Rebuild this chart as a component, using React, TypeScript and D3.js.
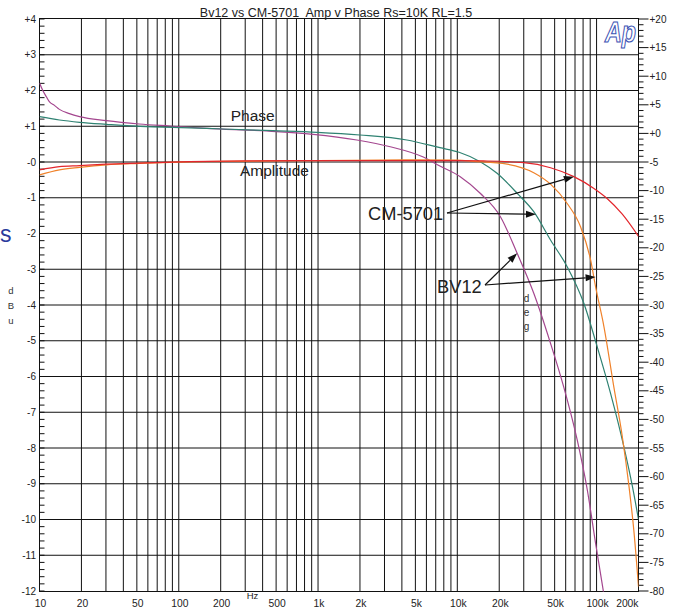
import React from "react";
import * as d3 from "d3";

// Frequency response, Bv12 vs CM-5701: amplitude (dBu, left) and phase (deg, right)
const CM5701_AMP_FREQ = [10, 13.9, 19.4, 30.2, 52, 120, 300, 1000, 5000, 10000, 15400, 30000, 46700, 68700, 95700, 119000, 153000, 200000];
const CM5701_AMP = [-0.22, -0.13, -0.1, -0.06, -0.03, 0.01, 0.03, 0.04, 0.04, 0.04, 0.03, -0.02, -0.16, -0.41, -0.74, -1.02, -1.46, -2.08];

const BV12_AMP_FREQ = [10, 13.9, 19.4, 30.2, 52, 150, 1000, 5000, 10000, 13000, 22800, 35400, 46700, 61500, 76700, 90600, 98400, 113000, 133000, 153000, 171000, 185000, 200000];
const BV12_AMP = [-0.36, -0.22, -0.15, -0.08, -0.04, 0.01, 0.04, 0.06, 0.05, 0.02, -0.06, -0.3, -0.62, -1.16, -1.81, -2.74, -3.49, -4.61, -6.29, -7.68, -9.08, -10.29, -11.88];

const CM5701_PHASE_FREQ = [10, 13.9, 19.4, 30.2, 58.6, 90.6, 207, 475, 984, 2000, 4340, 7500, 10300, 14600, 19300, 26900, 35400, 46700, 61500, 81000, 101000, 126000, 157000, 181000, 200000];
const CM5701_PHASE = [2.92, 2.34, 1.94, 1.59, 1.17, 1.07, 0.77, 0.47, 0.19, -0.28, -1.15, -2.5, -3.3, -4.95, -6.98, -10.47, -13.69, -18.64, -23.3, -29.7, -37.29, -45.44, -54.77, -61.77, -67.5];

const BV12_PHASE_FREQ = [10, 10.56, 11.2, 11.8, 12.8, 13.9, 16.4, 19.4, 30.2, 52, 86, 158, 428, 920, 1900, 3300, 5700, 7500, 10500, 14600, 20400, 26900, 35400, 46700, 58000, 72600, 85800, 98400, 112000];
const BV12_PHASE = [8.8, 7.5, 6.4, 5.5, 4.9, 4.2, 3.45, 2.92, 2.22, 1.64, 1.29, 0.89, 0.42, -0.16, -1.15, -2.33, -4.13, -5.7, -7.57, -10.47, -14.56, -20.96, -27.95, -36.7, -44.28, -53.6, -62.34, -71.66, -80.12];

const FREQ_LABELS = [
  { f: 10, t: "10" }, { f: 20, t: "20" }, { f: 50, t: "50" }, { f: 100, t: "100" },
  { f: 200, t: "200" }, { f: 500, t: "500" }, { f: 1000, t: "1k" }, { f: 2000, t: "2k" },
  { f: 5000, t: "5k" }, { f: 10000, t: "10k" }, { f: 20000, t: "20k" }, { f: 50000, t: "50k" },
  { f: 100000, t: "100k" }, { f: 200000, t: "200k" },
];
const DBU_TICKS = d3.range(4, -13, -1);
const DEG_TICKS = d3.range(20, -81, -5);

// Annotation arrow tips, in data units
const CM_TIPS = [
  { f: 68700, v: -0.41, axis: "db" },
  { f: 36730, v: -14.14, axis: "deg" },
];
const BV_TIPS = [
  { f: 26900, v: -20.96, axis: "deg" },
  { f: 98400, v: -3.22, axis: "db" },
];

const COLORS = {
  cmAmp: "#e3262c",
  bvAmp: "#f0822a",
  cmPhase: "#2f8272",
  bvPhase: "#a4478f",
};

const FONT = "'Liberation Sans', Arial, Helvetica, sans-serif";
const W = 673;
const H = 609;
const L = 39.5;
const R = 638.5;
const T = 19;
const B = 591;

export default function App() {
  const x = d3.scaleLog().domain([10, 200000]).range([L, R]);
  const yDb = d3.scaleLinear().domain([4, -12]).range([T, B]);
  const yDeg = d3.scaleLinear().domain([20, -80]).range([T, B]);

  const gridFreqs: number[] = [];
  for (let dec = 10; dec <= 100000; dec *= 10) {
    for (let m = 1; m <= 9; m++) {
      const f = dec * m;
      if (f > 10 && f < 200000) gridFreqs.push(f);
    }
  }

  const mkLine = (freqs: number[], vals: number[], y: d3.ScaleLinear<number, number>) =>
    d3
      .line<number>()
      .x((_, i) => x(freqs[i]))
      .y((v) => y(v))
      .curve(d3.curveMonotoneX)(vals) || "";

  const minorDb = d3.range(4, -12.001, -0.2);
  const minorDeg = d3.range(20, -80.5, -1);

  const tipXY = (t: { f: number; v: number; axis: string }) => [x(t.f), t.axis === "db" ? yDb(t.v) : yDeg(t.v)];

  const arrow = (x1: number, y1: number, x2: number, y2: number, key: string) => {
    const ang = Math.atan2(y2 - y1, x2 - x1);
    const len = 10;
    const hw = 3.5;
    const bx = x2 - len * Math.cos(ang);
    const by = y2 - len * Math.sin(ang);
    const px = -Math.sin(ang) * hw;
    const py = Math.cos(ang) * hw;
    return (
      <g key={key}>
        <line x1={x1} y1={y1} x2={bx} y2={by} stroke="#111" strokeWidth={1.2} />
        <polygon points={`${x2},${y2} ${bx + px},${by + py} ${bx - px},${by - py}`} fill="#111" />
      </g>
    );
  };

  const cmTail = [447, 213];
  const bvTail = [485, 285];

  return (
    <svg
      width={W}
      height={H}
      style={{ position: "absolute", left: 0, top: 0, background: "#fff" }}
      fontFamily={FONT}
    >
      <defs>
        <clipPath id="plot">
          <rect x={L} y={T - 1} width={R - L} height={B - T + 2} />
        </clipPath>
      </defs>
      <rect width={W} height={H} fill="#fff" />

      {/* grid */}
      <g stroke="#111" strokeWidth={1}>
        {gridFreqs.map((f) => (
          <line key={"v" + f} x1={x(f)} x2={x(f)} y1={T} y2={B} />
        ))}
        {DBU_TICKS.filter((d) => d < 4 && d > -12).map((d) => (
          <line key={"h" + d} x1={L} x2={R} y1={yDb(d)} y2={yDb(d)} />
        ))}
      </g>
      <rect x={L} y={18.5} width={R - L} height={591.5 - 18.5} fill="none" stroke="#111" strokeWidth={1} />

      {/* axis ticks */}
      <g stroke="#111" strokeWidth={1}>
        {minorDb.map((d, i) => (
          <line key={"ml" + i} x1={L} x2={L + 5} y1={yDb(d)} y2={yDb(d)} />
        ))}
        {minorDeg.map((d, i) => {
          const major = Math.round(d) % 5 === 0;
          return <line key={"mr" + i} x1={R} x2={R + (major ? 10 : 5)} y1={yDeg(d)} y2={yDeg(d)} />;
        })}
      </g>

      {/* left axis labels */}
      <g fontSize={10} fill="#222" textAnchor="end">
        {DBU_TICKS.map((d) => (
          <text key={"ld" + d} x={36} y={yDb(d) + 3.6}>
            {d > 0 ? "+" + d : d === 0 ? "-0" : String(d)}
          </text>
        ))}
      </g>
      {/* right axis labels */}
      <g fontSize={10} fill="#222" textAnchor="start">
        {DEG_TICKS.map((d) => (
          <text key={"rd" + d} x={649.5} y={yDeg(d) + 3.6}>
            {d >= 0 ? "+" + d : String(d)}
          </text>
        ))}
      </g>
      {/* frequency labels */}
      <g fontSize={10.3} fill="#222">
        {FREQ_LABELS.map((l) => (
          <text
            key={"fl" + l.f}
            x={l.f === 200000 ? R : x(l.f) + 1}
            y={607}
            textAnchor={l.f === 200000 ? "end" : "middle"}
          >
            {l.t}
          </text>
        ))}
      </g>
      <text x={252.5} y={599} fontSize={9.5} fill="#222" textAnchor="middle">
        Hz
      </text>

      {/* unit labels */}
      <g fontSize={9.5} fill="#333" textAnchor="middle">
        <text x={11} y={293.5}>d</text>
        <text x={11} y={309}>B</text>
        <text x={11} y={323.5}>u</text>
      </g>
      <g fontSize={10} fill="#333" textAnchor="middle">
        <text x={526.5} y={301.5}>d</text>
        <text x={526.5} y={316}>e</text>
        <text x={526.5} y={329.5}>g</text>
      </g>
      <text x={0} y={242} fontSize={23} fill="#2b3a9c">
        s
      </text>

      {/* title */}
      <text x={336} y={16.7} fontSize={12.5} fill="#222" textAnchor="middle" style={{ whiteSpace: "pre" }}>
        {"Bv12 vs CM-5701  Amp v Phase Rs=10K RL=1.5"}
      </text>

      {/* logo */}
      <text
        x={605}
        y={41.5}
        fontSize={29}
        fontStyle="italic"
        fontWeight="bold"
        fill="#fff"
        stroke="#3c54b4"
        strokeWidth={1.2}
        textLength={31}
        lengthAdjust="spacingAndGlyphs"
      >
        Ap
      </text>

      {/* curves */}
      <g clipPath="url(#plot)" fill="none" strokeWidth={1.2}>
        <path d={mkLine(BV12_PHASE_FREQ, BV12_PHASE, yDeg)} stroke={COLORS.bvPhase} />
        <path d={mkLine(CM5701_PHASE_FREQ, CM5701_PHASE, yDeg)} stroke={COLORS.cmPhase} />
        <path d={mkLine(BV12_AMP_FREQ, BV12_AMP, yDb)} stroke={COLORS.bvAmp} />
        <path d={mkLine(CM5701_AMP_FREQ, CM5701_AMP, yDb)} stroke={COLORS.cmAmp} />
      </g>

      {/* annotations */}
      <g fill="#222" fontSize={15.5}>
        <text x={230.7} y={121}>Phase</text>
        <text x={240} y={176}>Amplitude</text>
      </g>
      <g fill="#222" fontSize={18.3}>
        <text x={368} y={220}>CM-5701</text>
        <text x={437} y={293}>BV12</text>
      </g>
      {CM_TIPS.map((t, i) => {
        const [tx, ty] = tipXY(t);
        return arrow(cmTail[0], cmTail[1], tx, ty, "cm" + i);
      })}
      {BV_TIPS.map((t, i) => {
        const [tx, ty] = tipXY(t);
        return arrow(bvTail[0], bvTail[1], tx, ty, "bv" + i);
      })}
    </svg>
  );
}
